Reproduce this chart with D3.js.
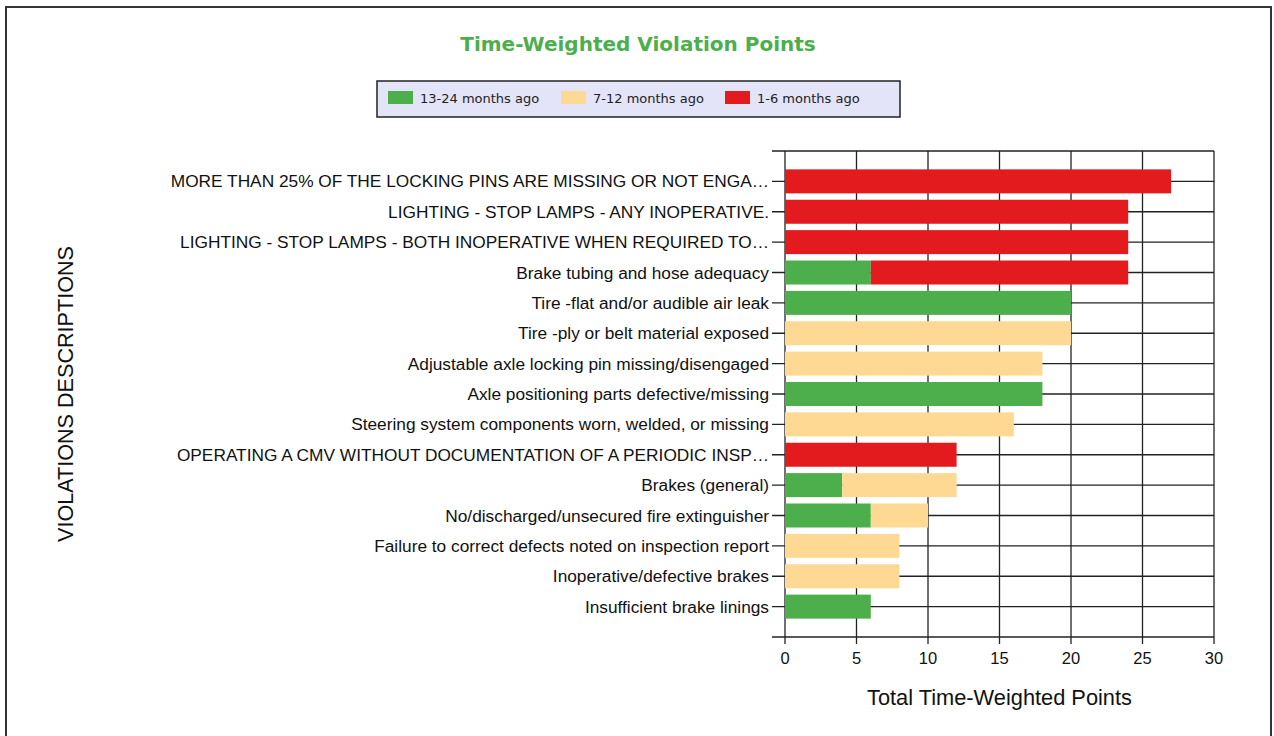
<!DOCTYPE html>
<html>
<head>
<meta charset="utf-8">
<script src="https://cdn.jsdelivr.net/npm/d3@7"></script>
<style>
  body { margin: 0; background: #fff; }
  svg { display: block; }
</style>
</head>
<body>
<div id="chart"></div>
<script>
// Violation descriptions, top to bottom
const categories = [
  "MORE THAN 25% OF THE LOCKING PINS ARE MISSING OR NOT ENGA\u2026",
  "LIGHTING - STOP LAMPS - ANY INOPERATIVE.",
  "LIGHTING - STOP LAMPS - BOTH INOPERATIVE WHEN REQUIRED TO\u2026",
  "Brake tubing and hose adequacy",
  "Tire -flat and/or audible air leak",
  "Tire -ply or belt material exposed",
  "Adjustable axle locking pin missing/disengaged",
  "Axle positioning parts defective/missing",
  "Steering system components worn, welded, or missing",
  "OPERATING A CMV WITHOUT DOCUMENTATION OF A PERIODIC INSP\u2026",
  "Brakes (general)",
  "No/discharged/unsecured fire extinguisher",
  "Failure to correct defects noted on inspection report",
  "Inoperative/defective brakes",
  "Insufficient brake linings"
];

// points per period
const olderPts  = [0, 0, 0, 6, 20, 0, 0, 18, 0, 0, 4, 6, 0, 0, 6];   // 13-24 months ago
const midPts    = [0, 0, 0, 0, 0, 20, 18, 0, 16, 0, 8, 4, 8, 8, 0];   // 7-12 months ago
const recentPts = [27, 24, 24, 18, 0, 0, 0, 0, 0, 12, 0, 0, 0, 0, 0]; // 1-6 months ago

const seriesKeys = ["older", "mid", "recent"];
const seriesNames = ["13-24 months ago", "7-12 months ago", "1-6 months ago"];
const seriesColors = ["#4caf4c", "#fed993", "#e41b1e"];
const xTicks = [0, 5, 10, 15, 20, 25, 30];

const W = 1274, H = 736;
const plot = { left: 785, right: 1214, top: 151, bottom: 637 };
const labelFont = "'Liberation Sans', Arial, sans-serif";

const svg = d3.select("#chart").append("svg")
  .attr("width", W)
  .attr("height", H);

// page frame
svg.append("rect")
  .attr("x", 6).attr("y", 7)
  .attr("width", 1265).attr("height", 760)
  .attr("fill", "none")
  .attr("stroke", "#333")
  .attr("stroke-width", 2);

// title
svg.append("text")
  .attr("x", 638).attr("y", 51)
  .attr("text-anchor", "middle")
  .attr("font-family", "'DejaVu Sans', sans-serif")
  .attr("font-weight", "bold")
  .attr("font-size", "20px")
  .attr("fill", "#4caf4c")
  .text("Time-Weighted Violation Points");

// legend
const legend = svg.append("g");
legend.append("rect")
  .attr("x", 377).attr("y", 81)
  .attr("width", 523).attr("height", 36)
  .attr("fill", "#e4e4f8")
  .attr("stroke", "#222")
  .attr("stroke-width", 1.5);

const legendX = [388, 561, 725];
const legendItems = legend.selectAll("g.item")
  .data(seriesNames)
  .enter()
  .append("g")
  .attr("class", "item")
  .attr("transform", (d, i) => `translate(${legendX[i]},91)`);

legendItems.append("rect")
  .attr("width", 25).attr("height", 13)
  .attr("fill", (d, i) => seriesColors[i]);

legendItems.append("text")
  .attr("x", 32).attr("y", 12)
  .attr("font-family", "'DejaVu Sans', sans-serif")
  .attr("font-size", "13px")
  .attr("fill", "#222")
  .text(d => d);

// scales
const x = d3.scaleLinear().domain([0, 30]).range([plot.left, plot.right]);
const y = d3.scalePoint().domain(categories).range([plot.top, plot.bottom]).padding(1);
const barH = 24;

// grid lines
const grid = svg.append("g")
  .attr("stroke", "#222")
  .attr("stroke-width", 1.3);

grid.selectAll("line.h")
  .data([plot.top, ...categories.map(c => y(c)), plot.bottom])
  .enter()
  .append("line")
  .attr("class", "h")
  .attr("x1", plot.left - 13).attr("x2", plot.right)
  .attr("y1", d => d).attr("y2", d => d);

grid.selectAll("line.v")
  .data(xTicks)
  .enter()
  .append("line")
  .attr("class", "v")
  .attr("x1", d => x(d)).attr("x2", d => x(d))
  .attr("y1", plot.top).attr("y2", plot.bottom + 7);

// stacked bars
const rows = categories.map((c, i) => ({
  name: c, older: olderPts[i], mid: midPts[i], recent: recentPts[i]
}));
const stacked = d3.stack().keys(seriesKeys)(rows);

svg.append("g").selectAll("g")
  .data(stacked)
  .enter()
  .append("g")
  .attr("fill", (d, i) => seriesColors[i])
  .selectAll("rect")
  .data(d => d.filter(s => s[1] > s[0]))
  .enter()
  .append("rect")
  .attr("x", d => x(d[0]))
  .attr("width", d => x(d[1]) - x(d[0]))
  .attr("y", d => y(d.data.name) - barH / 2)
  .attr("height", barH);

// category labels
svg.append("g").selectAll("text")
  .data(categories)
  .enter()
  .append("text")
  .attr("x", plot.left - 16)
  .attr("y", d => y(d))
  .attr("dy", "0.35em")
  .attr("text-anchor", "end")
  .attr("font-family", labelFont)
  .attr("font-size", "17.3px")
  .attr("fill", "#111")
  .text(d => d);

// x tick labels
svg.append("g").selectAll("text")
  .data(xTicks)
  .enter()
  .append("text")
  .attr("x", d => x(d))
  .attr("y", 664)
  .attr("text-anchor", "middle")
  .attr("font-family", labelFont)
  .attr("font-size", "16.5px")
  .attr("fill", "#111")
  .text(d => d);

// axis titles
svg.append("text")
  .attr("x", (plot.left + plot.right) / 2)
  .attr("y", 705)
  .attr("text-anchor", "middle")
  .attr("font-family", labelFont)
  .attr("font-size", "21.8px")
  .attr("fill", "#111")
  .text("Total Time-Weighted Points");

svg.append("text")
  .attr("transform", `translate(73,${(plot.top + plot.bottom) / 2}) rotate(-90)`)
  .attr("text-anchor", "middle")
  .attr("font-family", labelFont)
  .attr("font-size", "21.6px")
  .attr("fill", "#111")
  .text("VIOLATIONS DESCRIPTIONS");
</script>
</body>
</html>
